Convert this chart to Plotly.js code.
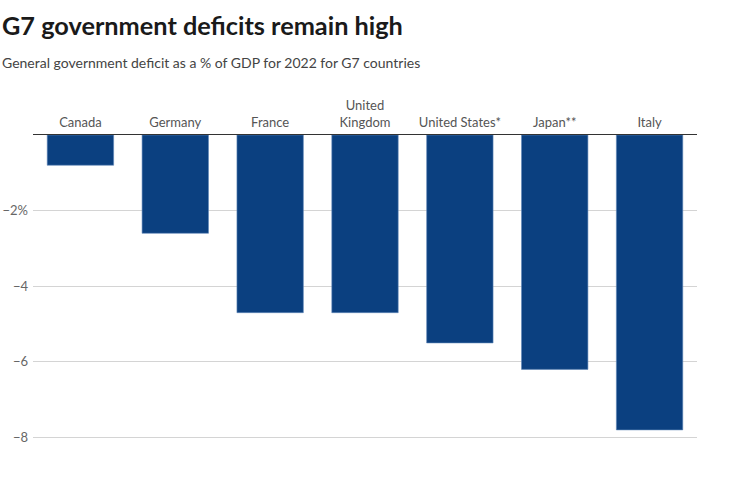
<!DOCTYPE html>
<html>
<head>
<meta charset="utf-8">
<script src="https://cdn.plot.ly/plotly-3.0.1.min.js"></script>
<style>html,body{margin:0;padding:0;background:#fff;}#chart{width:741px;height:479px;}</style>
</head>
<body>
<div id="chart"></div>
<script>
const countries = ["Canada", "Germany", "France", "United<br>Kingdom", "United States*", "Japan**", "Italy"];
const deficits = [-0.8, -2.6, -4.7, -4.7, -5.5, -6.2, -7.8];
const yTickVals = [-2, -4, -6, -8];
const yTickText = ["\u22122%", "\u22124", "\u22126", "\u22128"];
const titleText = "G7 government deficits remain high";
const subtitleText = "General government deficit as a % of GDP for 2022 for G7 countries";

const FONT = "Lato, 'Source Sans Pro', 'Noto Sans', sans-serif";

Plotly.newPlot("chart", [{
  type: "bar",
  x: countries,
  y: deficits,
  marker: {color: "#0b4080", line: {color: "#5f86b8", width: 0.6}},
  hoverinfo: "skip"
}], {
  width: 741, height: 479,
  margin: {l: 33, r: 44, t: 135, b: 34},
  paper_bgcolor: "#fff", plot_bgcolor: "#fff",
  bargap: 0.3,
  font: {family: FONT, color: "#555"},
  showlegend: false,
  xaxis: {
    side: "top", type: "category",
    showline: true, linecolor: "#333", linewidth: 1,
    showgrid: false, zeroline: false, ticks: "",
    tickfont: {size: 13, color: "#555", family: FONT},
    ticklabelstandoff: 2
  },
  yaxis: {
    range: [-8.2, 0],
    tickvals: yTickVals, ticktext: yTickText,
    showgrid: true, gridcolor: "#d4d4d4", gridwidth: 1,
    zeroline: false, showline: false, ticks: "",
    tickfont: {size: 13, color: "#666", family: FONT},
    ticklabelstandoff: 4
  },
  annotations: [
    {text: "<b>" + titleText + "</b>", xref: "paper", yref: "paper", x: -33/664, y: 1, xanchor: "left", yanchor: "bottom",
     yshift: 135 - 42, showarrow: false, font: {size: 25.3, color: "#1a1a1a", family: FONT}},
    {text: subtitleText, xref: "paper", yref: "paper", x: -33/664, y: 1, xanchor: "left", yanchor: "bottom",
     yshift: 135 - 73, showarrow: false, font: {size: 14, color: "#444", family: FONT}}
  ]
}, {displayModeBar: false, staticPlot: true});
</script>
</body>
</html>
